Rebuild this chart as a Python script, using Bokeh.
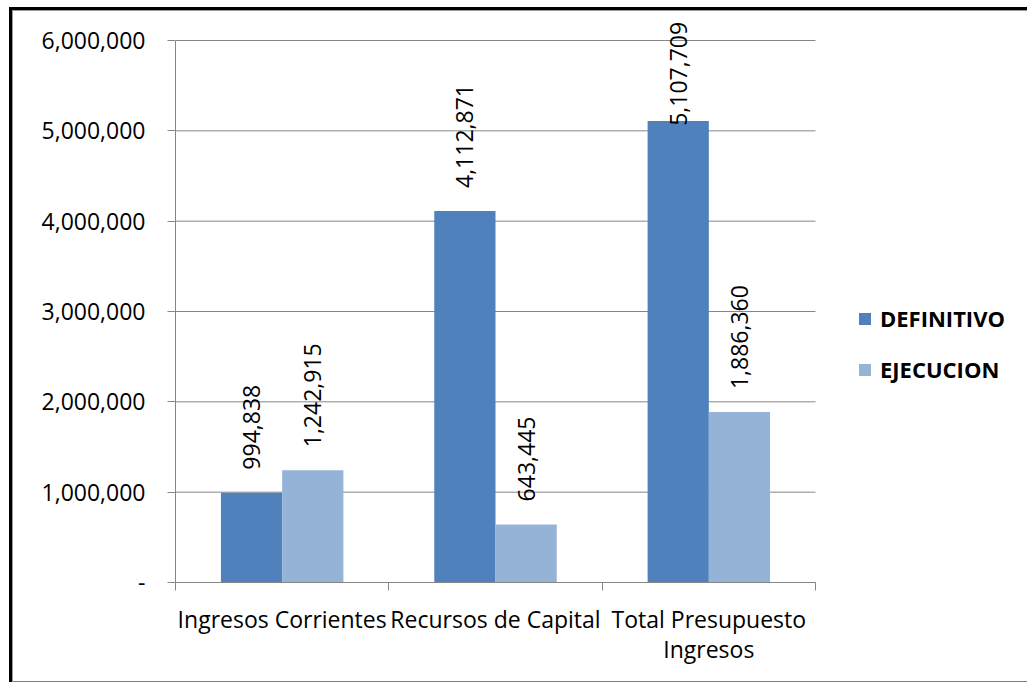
import numpy as np
from bokeh.plotting import figure
from bokeh.core.properties import value
from bokeh.models import (ColumnDataSource, Range1d, FixedTicker, NumeralTickFormatter,
                          LabelSet, Legend, LegendItem, LinearAxis)
from bokeh.embed import file_html
from bokeh.resources import INLINE

categories = ["Ingresos Corrientes", "Recursos de Capital", "Total Presupuesto\nIngresos"]
definitivo = [994838, 4112871, 5107709]
ejecucion = [1242915, 643445, 1886360]
series_names = ["DEFINITIVO", "EJECUCION"]
y_ticks = [0, 1000000, 2000000, 3000000, 4000000, 5000000, 6000000]

C_DEF = "#4F81BD"
C_EJE = "#95B3D7"
GRID = "#868686"
FONT = "Open Sans"

W, H = 1027, 682
grid_h = 542          # pixels from 0 to 6,000,000
grid_w = 640          # pixels covered by the three categories
extra_top = 25        # free room above the top gridline for value labels
ML, MR, MT = 175, 0, 15
MB = H - MT - grid_h - extra_top
extra_right = W - ML - MR - grid_w   # room on the right for the legend
y_max = y_ticks[-1]
n_cat = len(categories)
py_per_unit = grid_h / y_max
px_per_cat = grid_w / n_cat

p = figure(width=W, height=H, output_backend="svg", toolbar_location=None,
           x_range=Range1d(0, n_cat + extra_right / px_per_cat),
           y_range=Range1d(0, y_max + extra_top / py_per_unit),
           min_border_left=ML, min_border_right=MR, min_border_top=MT, min_border_bottom=MB,
           x_axis_type=None, y_axis_type=None)
p.border_fill_color = None
p.styles = {"background-color": "white",
            "box-shadow": ("inset 0 7px 0 0 white, inset 9px 0 0 0 white, "
                           "inset 0 10px 0 0 black, inset 12px 0 0 0 black, "
                           "inset 0 11px 0 0 #9a9a9a, inset 13px 0 0 0 #9a9a9a, "
                           "inset 0 -1px 0 0 #808080")}
p.outline_line_color = None
p.background_fill_color = "white"

centers = np.arange(n_cat) + 0.5
bw = 0.287

# horizontal gridlines across the category area only
p.segment(x0=0, x1=n_cat, y0=y_ticks, y1=y_ticks, line_color=GRID, line_width=1)

src_def = ColumnDataSource(dict(x=centers - bw / 2, top=definitivo,
                                lab=[f"{v:,}" for v in definitivo]))
src_eje = ColumnDataSource(dict(x=centers + bw / 2, top=ejecucion,
                                lab=[f"{v:,}" for v in ejecucion]))

r1 = p.vbar(x="x", top="top", bottom=0, width=bw, source=src_def, fill_color=C_DEF, line_color=None)
r2 = p.vbar(x="x", top="top", bottom=0, width=bw, source=src_eje, fill_color=C_EJE, line_color=None)

# value labels (rotated), kept within chart area like Excel does
gap_px = 23
char_px = 11.7
top_limit = y_max + 20 / py_per_unit
for src in (src_def, src_eje):
    ys = []
    for v, lab in zip(src.data["top"], src.data["lab"]):
        start = v + gap_px / py_per_unit
        length = len(lab) * char_px / py_per_unit
        if start + length > top_limit:
            start = top_limit - length
        ys.append(start)
    src.data["ly"] = ys
    p.add_layout(LabelSet(x="x", y="ly", text="lab", source=src, angle=np.pi / 2,
                          text_align="left", text_baseline="middle",
                          text_font=value(FONT), text_font_size="23px", text_color="black"))

# y axis
yax = LinearAxis(ticker=FixedTicker(ticks=y_ticks), formatter=NumeralTickFormatter(format="0,0"),
                 bounds=(0, y_max))
yax.major_label_overrides = {0: "-"}
yax.axis_line_color = GRID
yax.major_tick_line_color = GRID
yax.major_tick_out = 8
yax.major_tick_in = 0
yax.minor_tick_line_color = None
yax.major_label_standoff = 22
yax.major_label_text_font = FONT
yax.major_label_text_font_size = "23px"
yax.major_label_text_color = "black"
p.add_layout(yax, "left")

# x axis
xax = LinearAxis(ticker=FixedTicker(ticks=list(centers),
                                    minor_ticks=list(range(n_cat + 1))),
                 bounds=(0, n_cat))
xax.major_label_overrides = {float(c): lab for c, lab in zip(centers, categories)}
xax.axis_line_color = GRID
xax.major_tick_line_color = None
xax.major_tick_out = 0
xax.major_tick_in = 0
xax.minor_tick_line_color = GRID
xax.minor_tick_out = 8
xax.minor_tick_in = 0
xax.major_label_standoff = 12
xax.major_label_text_font = FONT
xax.major_label_text_font_size = "23px"
xax.major_label_text_line_height = 0.95
xax.major_label_text_color = "black"
p.add_layout(xax, "below")

p.xgrid.grid_line_color = None
p.ygrid.grid_line_color = None

legend = Legend(items=[LegendItem(label=series_names[0], renderers=[r1]),
                       LegendItem(label=series_names[1], renderers=[r2])],
                location=(grid_w + 42, 198), orientation="vertical",
                glyph_width=15, glyph_height=15, label_height=26, spacing=21,
                label_standoff=8, padding=0, margin=0,
                border_line_color=None, background_fill_alpha=0,
                label_text_font=FONT, label_text_font_size="22px",
                label_text_font_style="bold", label_text_color="black")
p.add_layout(legend)

open("out.html", "w").write(file_html(p, INLINE))
